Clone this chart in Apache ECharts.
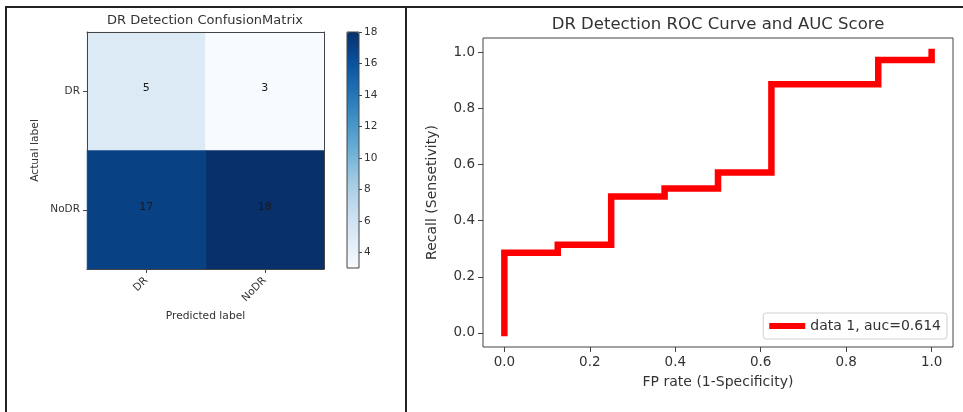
<!DOCTYPE html>
<html>
<head>
<meta charset="utf-8">
<script src="https://cdn.jsdelivr.net/npm/echarts@6/dist/echarts.min.js"></script>
<style>
html,body{margin:0;padding:0;background:#fff;}
#chart{width:963px;height:412px;}
</style>
</head>
<body>
<div id="chart"></div>
<script>
// ---------- data ----------
const cmCategories = ['DR', 'NoDR'];
// rows = actual label, columns = predicted label
const cmRowDR = [5, 3];
const cmRowNoDR = [17, 18];
const cmMin = 3;
const cmMax = 18;
const colorbarTicks = [4, 6, 8, 10, 12, 14, 16, 18];

const rocFpr = [0, 0, 0.125, 0.125, 0.25, 0.25, 0.375, 0.375, 0.5, 0.5, 0.625, 0.625, 0.875, 0.875, 1.0, 1.0];
const rocTpr = [0, 0.2857, 0.2857, 0.3143, 0.3143, 0.4857, 0.4857, 0.5143, 0.5143, 0.5714, 0.5714, 0.8857, 0.8857, 0.9714, 0.9714, 1.0];
const rocTicks = [0, 0.2, 0.4, 0.6, 0.8, 1.0];
const rocName = 'data 1, auc=0.614';

const blues = ['#f7fbff','#deebf7','#c6dbef','#9ecae1','#6baed6','#4292c6','#2171b5','#08519c','#08306b'];

// ---------- build ----------
const cmRows = [cmRowDR, cmRowNoDR];
const heatData = [];
cmRows.forEach((row, yi) => row.forEach((v, xi) => heatData.push([xi, yi, v])));
const rocData = rocFpr.map((x, i) => [x, rocTpr[i]]);

const FONT = 'DejaVu Sans';
const TXT = '#333';
const AX = '#444';

const chart = echarts.init(document.getElementById('chart'), null, {renderer: 'canvas'});
chart.setOption({
  animation: false,
  backgroundColor: '#fff',
  textStyle: {fontFamily: FONT},
  title: [
    {text: 'DR Detection ConfusionMatrix', left: 205, top: 13, textAlign: 'center', padding: 0,
     textStyle: {fontFamily: FONT, fontSize: 13, fontWeight: 'normal', color: TXT, lineHeight: 16}},
    {text: 'DR Detection ROC Curve and AUC Score', left: 718, top: 15, textAlign: 'center', padding: 0,
     textStyle: {fontFamily: FONT, fontSize: 16.5, fontWeight: 'normal', color: TXT, lineHeight: 20}}
  ],
  graphic: [
    {type: 'line', shape: {x1: 5, y1: 7, x2: 963, y2: 7}, style: {stroke: '#222', lineWidth: 2}, z: 100},
    {type: 'line', shape: {x1: 6, y1: 6, x2: 6, y2: 412}, style: {stroke: '#222', lineWidth: 2}, z: 100},
    {type: 'line', shape: {x1: 406, y1: 6, x2: 406, y2: 412}, style: {stroke: '#222', lineWidth: 2}, z: 100}
  ],
  grid: [
    {left: 87, top: 32, width: 237, height: 237, containLabel: false},
    {left: 347, top: 32, width: 12, height: 236, show: true, borderColor: AX, borderWidth: 1, backgroundColor: 'transparent', z: 10},
    {left: 483, top: 38, width: 470, height: 309, show: true, borderColor: AX, borderWidth: 1}
  ],
  xAxis: [
    {type: 'category', gridIndex: 0, data: cmCategories, position: 'bottom', z: 10,
     axisLine: {show: true, lineStyle: {color: AX, width: 1}},
     axisTick: {show: true, alignWithLabel: true, length: 4, lineStyle: {color: AX}},
     axisLabel: {rotate: 45, fontSize: 10.5, color: TXT, margin: 10, fontFamily: FONT},
     name: 'Predicted label', nameLocation: 'middle', nameGap: 42,
     nameTextStyle: {fontSize: 10.7, color: TXT, fontFamily: FONT},
     splitLine: {show: false}},
    {type: 'category', gridIndex: 0, data: cmCategories, position: 'top', z: 10,
     axisLine: {show: true, lineStyle: {color: AX, width: 1}},
     axisTick: {show: false}, axisLabel: {show: false}, splitLine: {show: false}},
    {type: 'value', gridIndex: 1, min: 0, max: 1, show: false},
    {type: 'value', gridIndex: 2, min: -0.05, max: 1.05,
     axisLine: {show: false, onZero: false},
     axisTick: {show: true, length: 5, lineStyle: {color: AX}, customValues: rocTicks},
     axisLabel: {fontSize: 13.5, color: TXT, margin: 8, fontFamily: FONT, customValues: rocTicks,
                 formatter: v => v.toFixed(1)},
     splitLine: {show: false},
     name: 'FP rate (1-Specificity)', nameLocation: 'middle', nameGap: 28,
     nameTextStyle: {fontSize: 14, color: TXT, fontFamily: FONT}}
  ],
  yAxis: [
    {type: 'category', gridIndex: 0, data: cmCategories, inverse: true, position: 'left', z: 10,
     axisLine: {show: true, lineStyle: {color: AX, width: 1}},
     axisTick: {show: true, alignWithLabel: true, length: 4, lineStyle: {color: AX}},
     axisLabel: {fontSize: 10.5, color: TXT, margin: 7, fontFamily: FONT},
     name: 'Actual label', nameLocation: 'middle', nameGap: 46, nameRotate: 90,
     nameTextStyle: {fontSize: 10.7, color: TXT, fontFamily: FONT},
     splitLine: {show: false}},
    {type: 'category', gridIndex: 0, data: cmCategories, inverse: true, position: 'right', z: 10,
     axisLine: {show: true, lineStyle: {color: AX, width: 1}},
     axisTick: {show: false}, axisLabel: {show: false}, splitLine: {show: false}},
    {type: 'value', gridIndex: 1, min: cmMin, max: cmMax, position: 'right', z: 10,
     axisLine: {show: false, onZero: false},
     axisTick: {show: true, length: 3, inside: false, lineStyle: {color: AX}, customValues: colorbarTicks},
     axisLabel: {fontSize: 10.5, color: TXT, margin: 5, fontFamily: FONT, customValues: colorbarTicks},
     splitLine: {show: false}},
    {type: 'value', gridIndex: 2, min: -0.05, max: 1.05,
     axisLine: {show: false, onZero: false},
     axisTick: {show: true, length: 5, lineStyle: {color: AX}, customValues: rocTicks},
     axisLabel: {fontSize: 13.5, color: TXT, margin: 8, fontFamily: FONT, customValues: rocTicks,
                 formatter: v => v.toFixed(1)},
     splitLine: {show: false},
     name: 'Recall (Sensetivity)', nameLocation: 'middle', nameGap: 44, nameRotate: 90,
     nameTextStyle: {fontSize: 14, color: TXT, fontFamily: FONT}}
  ],
  visualMap: {
    type: 'continuous', min: cmMin, max: cmMax, seriesIndex: 0,
    calculable: false, show: true, orient: 'vertical',
    left: 347, top: 32, itemWidth: 12, itemHeight: 236, padding: 0,
    text: null, showLabel: false,
    inRange: {color: blues}
  },
  legend: {
    data: [rocName], right: 16, top: 313, orient: 'horizontal',
    icon: 'rect', itemWidth: 36, itemHeight: 6,
    padding: [6, 6], backgroundColor: '#fff', borderColor: '#d0d0d0', borderWidth: 1, borderRadius: 3,
    textStyle: {fontSize: 14, color: TXT, fontFamily: FONT},
    selectedMode: false
  },
  series: [
    {type: 'heatmap', xAxisIndex: 0, yAxisIndex: 0, data: heatData, z: 2,
     label: {show: true, fontSize: 11, color: '#1a1a1a', fontFamily: FONT, offset: [0, -3]},
     itemStyle: {borderWidth: 0},
     emphasis: {disabled: true}},
    {type: 'line', name: rocName, xAxisIndex: 3, yAxisIndex: 3, data: rocData,
     showSymbol: false, symbol: 'none', itemStyle: {color: '#ff0000'},
     lineStyle: {color: '#ff0000', width: 6.5, cap: 'square', join: 'miter'},
     emphasis: {disabled: true}}
  ]
});
</script>
</body>
</html>
